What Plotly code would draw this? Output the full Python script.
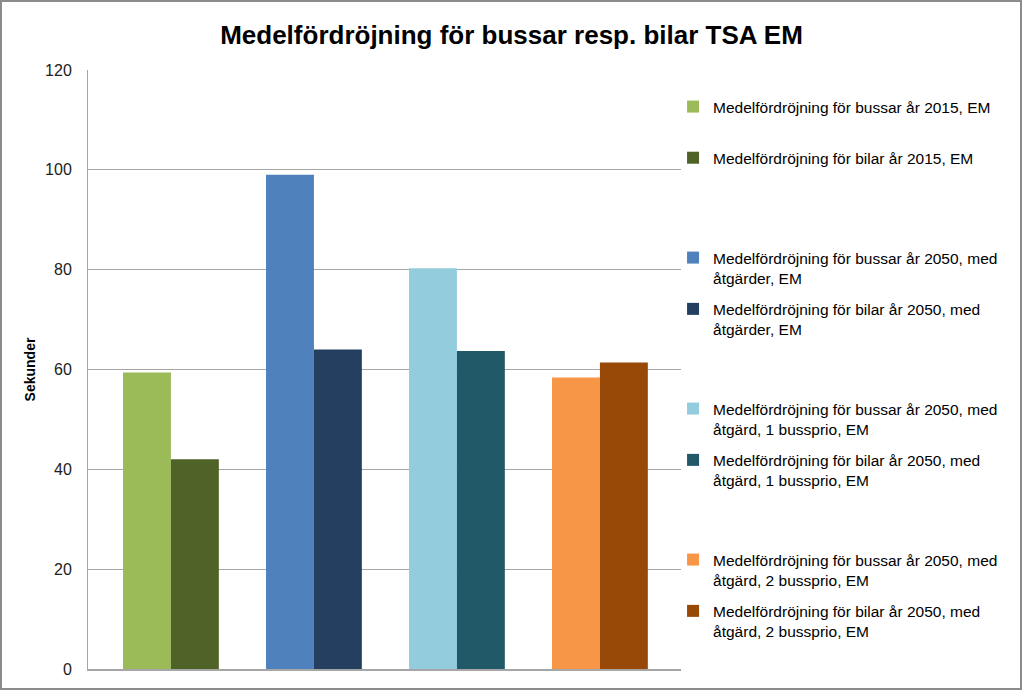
import plotly.graph_objects as go

categories = ["2015", "2050 med åtgärder", "2050 åtgärd 1 bussprio", "2050 åtgärd 2 bussprio"]
series_names = [
    "Medelfördröjning för bussar år 2015, EM",
    "Medelfördröjning för bilar år 2015, EM",
    "Medelfördröjning för bussar år 2050, med<br>åtgärder, EM",
    "Medelfördröjning för bilar år 2050, med<br>åtgärder, EM",
    "Medelfördröjning för bussar år 2050, med<br>åtgärd, 1 bussprio, EM",
    "Medelfördröjning för bilar år 2050, med<br>åtgärd, 1 bussprio, EM",
    "Medelfördröjning för bussar år 2050, med<br>åtgärd, 2 bussprio, EM",
    "Medelfördröjning för bilar år 2050, med<br>åtgärd, 2 bussprio, EM",
]
series_category = [0, 0, 1, 1, 2, 2, 3, 3]
series_kind = ["bus", "car", "bus", "car", "bus", "car", "bus", "car"]
values = [59.4, 42.0, 99.0, 64.0, 80.3, 63.7, 58.4, 61.4]
colors = ["#9BBB59", "#4F6228", "#4F81BD", "#243F60", "#93CDDD", "#215968", "#F79646", "#984807"]

FONT = "Liberation Sans"
LEG_FONT = 15.5
legend_ids = ["legend", "legend2", "legend3", "legend4"]

fig = go.Figure()
for i, name in enumerate(series_names):
    fig.add_trace(go.Bar(
        x=[categories[series_category[i]]],
        y=[values[i]],
        name=name,
        marker=dict(color=colors[i], line=dict(width=0)),
        offsetgroup=series_kind[i],
        legendgroup="s%d" % i,
        legend=legend_ids[series_category[i]],
        hoverinfo="y",
    ))

H = 599.0
def ypix(p):
    return (669 - p) / H

leg_common = dict(x=0.9866, xanchor="left", yanchor="top", valign="top",
                  itemwidth=30, font=dict(family=FONT, size=LEG_FONT, color="black"),
                  bgcolor="rgba(0,0,0,0)", borderwidth=0)

fig.update_layout(
    width=1023, height=691,
    paper_bgcolor="white", plot_bgcolor="white",
    margin=dict(l=88, r=342, t=70, b=22),
    barmode="group", bargap=0.33, bargroupgap=0,
    title=dict(text="<b>Medelfördröjning för bussar resp. bilar TSA EM</b>",
               x=0.5, xanchor="center", y=0.949, yanchor="middle",
               font=dict(family=FONT, size=26, color="black")),
    font=dict(family=FONT, size=13, color="black"),
    xaxis=dict(showticklabels=False, showgrid=False, showline=True,
               linecolor="#A6A6A6", linewidth=2, ticks="",
               range=[-0.58, 3.567], zeroline=False),
    yaxis=dict(range=[0, 120], dtick=20, showgrid=True, gridcolor="#A6A6A6",
               gridwidth=1, showline=True, linecolor="#A6A6A6", linewidth=1,
               zeroline=False, ticks="", ticklabelstandoff=12,
               tickfont=dict(family=FONT, size=16, color="#222"),
               title=dict(text="<b>Sekunder</b>", standoff=6,
                          font=dict(family=FONT, size=14, color="black"))),
    legend=dict(y=ypix(90), tracegroupgap=28, **leg_common),
    legend2=dict(y=ypix(241), tracegroupgap=8, **leg_common),
    legend3=dict(y=ypix(392), tracegroupgap=8, **leg_common),
    legend4=dict(y=ypix(543), tracegroupgap=8, **leg_common),
    showlegend=True,
)

# outer chart border
fig.add_shape(type="rect", xref="paper", yref="paper",
              x0=(1 - 88) / 593, x1=(1021 - 88) / 593,
              y0=(669 - 689) / 599, y1=(669 - 1) / 599,
              line=dict(color="#8C8C8C", width=2), fillcolor="rgba(0,0,0,0)",
              layer="below")

fig.write_html("out.html", config={"displayModeBar": False},
               post_script="document.body.style.margin='0px';")
